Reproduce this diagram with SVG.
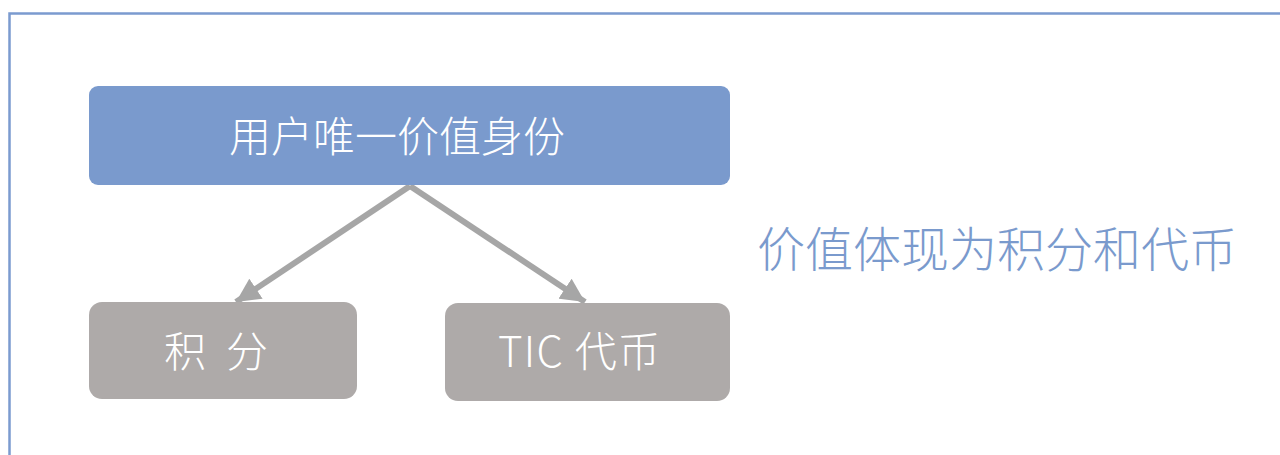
<svg xmlns="http://www.w3.org/2000/svg" width="1280" height="455" viewBox="0 0 1280 455">
<style>
.t{font-family:"Noto Sans CJK SC","Liberation Sans",sans-serif;font-weight:300;text-anchor:middle;fill:#ffffff}
.frame{fill:none;stroke:#7b9bcf;stroke-width:2.5}
.conn{stroke:#a6a6a6;stroke-width:6;fill:none}
</style>
<defs>
<marker id="ah" viewBox="0 0 10 10" refX="10" refY="5" markerWidth="4" markerHeight="4" orient="auto" markerUnits="strokeWidth">
<path d="M0,0 L10,5 L0,10 z" fill="#a6a6a6"/>
</marker>
</defs>
<rect width="1280" height="455" fill="#ffffff"/>
<path class="frame" d="M9.5,455 V13.5 H1280"/>
<g id="connectors">
<line class="conn" x1="410" y1="186" x2="236" y2="302" marker-end="url(#ah)"/>
<line class="conn" x1="410" y1="186" x2="585" y2="302" marker-end="url(#ah)"/>
</g>
<g id="node-top">
<rect x="89" y="86" width="641" height="99" rx="9" fill="#7a9acd"/>
<text class="t" x="397" y="152" font-size="42">用户唯一价值身份</text>
</g>
<g id="node-points">
<rect x="89" y="302" width="268" height="97" rx="13" fill="#aeaaa9"/>
<text class="t" x="216" y="367" font-size="42" textLength="104" lengthAdjust="spacing">积 分</text>
</g>
<g id="node-token">
<rect x="445" y="303" width="285" height="98" rx="13" fill="#aeaaa9"/>
<text class="t" x="579" y="367" font-size="42" textLength="162" lengthAdjust="spacing">TIC 代币</text>
</g>
<g id="caption">
<text x="997" y="267" font-size="48" font-family="Noto Sans CJK SC,Liberation Sans,sans-serif" font-weight="300" text-anchor="middle" fill="#7a9acd">价值体现为积分和代币</text>
</g>
</svg>
